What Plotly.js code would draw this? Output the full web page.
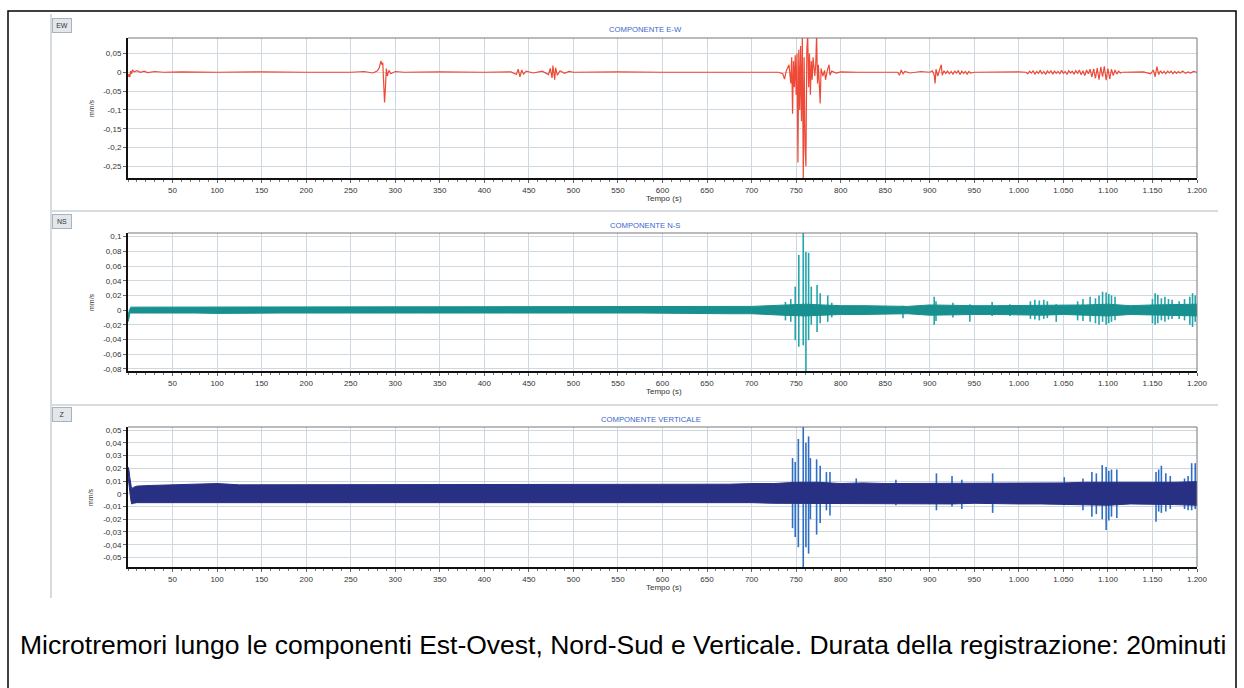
<!DOCTYPE html>
<html>
<head>
<meta charset="utf-8">
<script src="https://cdn.plot.ly/plotly-3.0.1.min.js"></script>
<style>html,body{margin:0;padding:0;background:#fff;}#chart{width:1244px;height:688px;}</style>
</head>
<body>
<div id="chart"></div>
<script>
// ---------- tick labels ----------
const xTickVals = [50,100,150,200,250,300,350,400,450,500,550,600,650,700,750,800,850,900,950,1000,1050,1100,1150,1200];
const xTickText = ['50','100','150','200','250','300','350','400','450','500','550','600','650','700','750','800','850','900','950','1.000','1.050','1.100','1.150','1.200'];
const ewTickVals = [0.05,0,-0.05,-0.1,-0.15,-0.2,-0.25];
const ewTickText = ['0,05','0','-0,05','-0,1','-0,15','-0,2','-0,25'];
const nsTickVals = [0.1,0.08,0.06,0.04,0.02,0,-0.02,-0.04,-0.06,-0.08];
const nsTickText = ['0,1','0,08','0,06','0,04','0,02','0','-0,02','-0,04','-0,06','-0,08'];
const zTickVals = [0.05,0.04,0.03,0.02,0.01,0,-0.01,-0.02,-0.03,-0.04,-0.05];
const zTickText = ['0,05','0,04','0,03','0,02','0,01','0','-0,01','-0,02','-0,03','-0,04','-0,05'];

// ---------- EW component (mm/s) ----------
const ewTime = [0,1,2,3,4,5,7,10,14,18,22,30,40,60,100,150,200,250,265,275,280,282,284,285,286,287,288,289,290,291,293,295,300,310,350,400,430,436,438,440,442,444,447,455,465,472,474,476,477,479,480,482,485,490,495,500,550,600,650,700,730,735,737,739,742,744,745,746,747,748,749,750,751,752,753,754,755,756,757,758,759,760,761,762,763,764,765,766,767,768,769,771,772,773,774,775,777,778,780,782,783,785,787,788,790,795,800,820,850,864,866,868,870,872,878,890,900,903,905,906,907,909,911,913,914,916,918,920,922,924,926,928,930,932,934,936,938,940,942,944,946,950,1000,1008,1010,1012,1014,1016,1018,1020,1022,1024,1026,1028,1030,1032,1034,1036,1038,1040,1042,1044,1046,1048,1050,1052,1054,1056,1058,1060,1062,1064,1066,1068,1070,1072,1074,1076,1078,1080,1082,1084,1086,1088,1090,1092,1094,1096,1098,1100,1102,1104,1106,1108,1110,1112,1114,1116,1140,1148,1151,1153,1155,1157,1159,1161,1163,1165,1167,1169,1171,1173,1175,1177,1179,1181,1184,1187,1190,1193,1196,1200];
const ewValue = [-0.012,-0.005,-0.013,0.003,-0.004,0.006,0.001,0.004,0,0.003,-0.001,0.002,0,0.001,0,0.001,0,0,0.002,-0.002,0.004,0.012,0.03,0.02,0.025,-0.03,-0.08,-0.04,0.01,-0.01,0.005,-0.004,0.002,0,0.001,0,0.001,-0.006,0.008,-0.012,0.006,-0.005,0.003,-0.002,0.003,-0.006,0.01,-0.015,0.018,-0.02,0.012,-0.008,0.004,-0.003,0.002,0,0.001,0,0,0.001,0,-0.004,-0.018,0.004,0.02,-0.03,0.04,-0.11,0.03,-0.04,0.045,-0.06,0.05,-0.24,0.06,-0.1,0.07,-0.13,0.1,-0.29,0.04,-0.2,-0.25,0.06,0.1,-0.04,0.05,-0.06,0.03,-0.02,0.04,-0.01,0.02,0.1,-0.03,0.02,-0.083,0.01,-0.01,0.005,-0.02,0.005,0.02,-0.008,0.003,-0.002,0.001,0,0.001,0,-0.008,0.006,-0.004,0.002,-0.002,0.002,0,0.004,-0.008,-0.03,0.008,-0.01,0.006,0.02,-0.008,0.004,-0.003,0.003,-0.004,0.002,-0.005,0.003,-0.002,0.004,-0.006,0.003,-0.003,0.002,-0.005,0.002,-0.002,0,0.001,0,-0.004,0.003,-0.002,0.004,-0.005,0.002,-0.003,0.005,-0.004,0.002,-0.006,0.003,-0.002,0.004,-0.005,0.003,-0.003,0.002,-0.004,0.005,-0.003,0.002,-0.006,0.004,-0.002,0.003,-0.005,0.004,-0.003,0.006,-0.007,0.004,-0.009,0.006,-0.004,0.008,-0.012,0.009,-0.016,0.011,-0.02,0.014,-0.012,0.016,-0.021,0.01,-0.018,0.008,-0.009,0.006,-0.005,0.003,-0.002,0,0.001,-0.004,0.006,-0.012,0.015,-0.006,0.004,-0.003,0.002,-0.004,0.003,-0.002,0.003,-0.004,0.002,-0.003,0.002,-0.002,0.003,-0.003,0.001,-0.002,0.002,0];

// ---------- NS component (mm/s): noise band + spikes ----------
const nsBandTime = [0,1,2,3,5,10,25,50,75,100,125,150,175,200,225,250,275,300,325,350,375,400,425,450,475,500,525,550,575,600,625,650,675,700,720,735,760,780,800,825,850,875,900,925,950,975,1000,1025,1050,1075,1100,1125,1150,1175,1200];
const nsBandHigh = [-0.006,-0.002,0.003,0.004,0.004,0.004,0.0045,0.004,0.0045,0.004,0.0045,0.0045,0.004,0.0045,0.004,0.0045,0.004,0.0045,0.004,0.0045,0.004,0.004,0.0045,0.004,0.004,0.0045,0.004,0.004,0.0045,0.004,0.0045,0.004,0.005,0.005,0.006,0.007,0.008,0.007,0.006,0.006,0.006,0.005,0.007,0.006,0.006,0.006,0.006,0.007,0.006,0.007,0.008,0.006,0.007,0.007,0.008];
const nsBandLow = [-0.016,-0.012,-0.004,-0.004,-0.0035,-0.004,-0.004,-0.0045,-0.004,-0.0045,-0.004,-0.0045,-0.004,-0.004,-0.0045,-0.004,-0.004,-0.0045,-0.004,-0.004,-0.0045,-0.004,-0.004,-0.0045,-0.004,-0.004,-0.0045,-0.004,-0.004,-0.0045,-0.004,-0.0045,-0.005,-0.005,-0.006,-0.007,-0.008,-0.007,-0.006,-0.006,-0.006,-0.005,-0.007,-0.006,-0.006,-0.006,-0.006,-0.007,-0.006,-0.007,-0.008,-0.006,-0.007,-0.007,-0.008];
const nsSpikeTime = [738,744,749,753,758,761,764,767,773.5,777,785.5,790,870,905,907,926,945,970,990,1013,1018,1023,1028,1032,1042,1066,1072,1080,1086,1090,1094,1098,1101,1104,1108,1150,1153,1156,1160,1164,1168,1172,1180,1186,1192,1195,1198];
const nsSpikeHigh = [0.011,0.015,0.032,0.075,0.11,0.079,0.078,0.032,0.034,0.023,0.02,0.01,0.006,0.018,0.012,0.01,0.008,0.011,0.008,0.012,0.014,0.013,0.014,0.012,0.008,0.012,0.015,0.018,0.016,0.02,0.025,0.024,0.022,0.02,0.018,0.015,0.023,0.021,0.016,0.018,0.015,0.014,0.012,0.015,0.018,0.023,0.02];
const nsSpikeLow = [-0.014,-0.016,-0.041,-0.05,-0.048,-0.09,-0.041,-0.02,-0.03,-0.018,-0.016,-0.01,-0.011,-0.02,-0.015,-0.01,-0.016,-0.008,-0.008,-0.012,-0.013,-0.014,-0.012,-0.011,-0.016,-0.014,-0.015,-0.016,-0.018,-0.02,-0.016,-0.02,-0.018,-0.016,-0.014,-0.018,-0.02,-0.018,-0.014,-0.016,-0.013,-0.012,-0.012,-0.014,-0.02,-0.023,-0.016];

// ---------- Z (vertical) component (mm/s): noise band + spikes ----------
const zBandTime = [0,1,2,3,4,6,10,25,50,75,100,125,150,175,200,225,250,275,300,325,350,375,400,425,450,475,500,525,550,575,600,625,650,675,700,725,750,775,800,825,850,875,900,925,950,975,1000,1025,1050,1075,1100,1125,1150,1175,1200];
const zBandHigh = [0.021,0.019,0.013,0.006,0.004,0.005,0.006,0.0065,0.007,0.007,0.008,0.007,0.007,0.0075,0.007,0.007,0.0075,0.007,0.007,0.0075,0.007,0.007,0.0075,0.007,0.007,0.0075,0.007,0.007,0.0075,0.007,0.0075,0.007,0.0075,0.0075,0.008,0.008,0.009,0.009,0.008,0.0085,0.008,0.008,0.0085,0.0085,0.008,0.008,0.0085,0.0085,0.0085,0.009,0.009,0.0085,0.009,0.009,0.0095];
const zBandLow = [0.014,0.01,0.002,-0.004,-0.008,-0.0075,-0.007,-0.0065,-0.0065,-0.007,-0.007,-0.0065,-0.0065,-0.007,-0.0065,-0.0065,-0.007,-0.0065,-0.0065,-0.007,-0.0065,-0.0065,-0.007,-0.0065,-0.0065,-0.007,-0.0065,-0.0065,-0.007,-0.0065,-0.007,-0.0065,-0.007,-0.007,-0.007,-0.0075,-0.008,-0.008,-0.0075,-0.0075,-0.0075,-0.0075,-0.008,-0.008,-0.0075,-0.0075,-0.008,-0.008,-0.008,-0.0085,-0.009,-0.008,-0.0085,-0.0085,-0.009];
const zSpikeTime = [746,749,752.5,758,761,764,766,773,777,784,788,817.5,862,907.5,925,936,970.6,1051,1072,1082,1087,1093.6,1098,1101,1104,1110,1154,1157,1160,1165,1170,1186,1190,1194,1198];
const zSpikeHigh = [0.028,0.025,0.043,0.06,0.04,0.045,0.028,0.027,0.022,0.017,0.017,0.012,0.011,0.016,0.014,0.011,0.016,0.013,0.012,0.017,0.016,0.0225,0.021,0.018,0.019,0.019,0.017,0.019,0.022,0.016,0.014,0.012,0.014,0.024,0.024];
const zSpikeLow = [-0.027,-0.034,-0.042,-0.06,-0.042,-0.047,-0.02,-0.032,-0.023,-0.013,-0.017,-0.008,-0.009,-0.013,-0.01,-0.012,-0.015,-0.009,-0.013,-0.018,-0.016,-0.02,-0.0285,-0.021,-0.018,-0.019,-0.022,-0.014,-0.015,-0.014,-0.012,-0.012,-0.013,-0.013,-0.012];

// ---------- helpers ----------
const W = 1244, H = 688;
const px = v => v / W;
const py = v => 1 - v / H;

function bandTrace(t, hi, lo, color, xa, ya) {
  return {
    x: t.concat(t.slice().reverse()),
    y: hi.concat(lo.slice().reverse()),
    xaxis: xa, yaxis: ya, type: 'scatter', mode: 'lines',
    fill: 'toself', fillcolor: color, line: {color: color, width: 1},
    hoverinfo: 'skip'
  };
}
function spikeTrace(t, hi, lo, color, xa, ya) {
  const xs = [], ys = [];
  t.forEach((v, i) => { xs.push(v, v, null); ys.push(lo[i], hi[i], null); });
  return {x: xs, y: ys, xaxis: xa, yaxis: ya, type: 'scatter', mode: 'lines',
          line: {color: color, width: 1.6}, hoverinfo: 'skip'};
}

const FONT = 'Liberation Sans, Arial, sans-serif';
const red = '#ef4a37', teal = '#17908f', tealLight = '#22a5ab', navy = '#283084', blueLight = '#2f6fc4';

const traces = [
  {x: ewTime, y: ewValue, xaxis: 'x', yaxis: 'y', type: 'scatter', mode: 'lines',
   line: {color: red, width: 1.2}, hoverinfo: 'skip'},
  spikeTrace(nsSpikeTime, nsSpikeHigh, nsSpikeLow, tealLight, 'x2', 'y2'),
  bandTrace(nsBandTime, nsBandHigh, nsBandLow, teal, 'x2', 'y2'),
  spikeTrace(zSpikeTime, zSpikeHigh, zSpikeLow, blueLight, 'x3', 'y3'),
  bandTrace(zBandTime, zBandHigh, zBandLow, navy, 'x3', 'y3')
];

const plotL = 128, plotR = 1197;
const panels = [
  {top: 38, bottom: 178, range: [-0.281, 0.091], tv: ewTickVals, tt: ewTickText},
  {top: 233, bottom: 371, range: [-0.083, 0.105], tv: nsTickVals, tt: nsTickText},
  {top: 427, bottom: 567, range: [-0.0575, 0.0524], tv: zTickVals, tt: zTickText}
];

const layout = {
  width: W, height: H, margin: {l: 0, r: 0, t: 0, b: 0},
  paper_bgcolor: '#ffffff', plot_bgcolor: '#ffffff', showlegend: false,
  font: {family: FONT, size: 8, color: '#333'},
  shapes: [], annotations: []
};

panels.forEach((p, i) => {
  const n = i === 0 ? '' : String(i + 1);
  layout['xaxis' + n] = {
    domain: [px(plotL), px(plotR)], anchor: 'y' + n, range: [0, 1200],
    tickmode: 'array', tickvals: xTickVals, ticktext: xTickText,
    ticks: 'outside', ticklen: 3, tickcolor: '#666', tickfont: {family: FONT, size: 8, color: '#333'},
    showgrid: true, gridcolor: '#cfd8de', gridwidth: 1, zeroline: false,
    showline: true, linecolor: '#111', linewidth: 2,
    minor: {tickmode: 'linear', tick0: 0, dtick: 10, ticks: 'outside', ticklen: 2, tickcolor: '#777', showgrid: false},
    fixedrange: true
  };
  layout['yaxis' + n] = {
    domain: [py(p.bottom), py(p.top)], anchor: 'x' + n, range: p.range,
    tickmode: 'array', tickvals: p.tv, ticktext: p.tt,
    ticks: 'outside', ticklen: 3, tickcolor: '#666', tickfont: {family: FONT, size: 8, color: '#333'},
    showgrid: true, gridcolor: '#cfd8de', gridwidth: 1, zeroline: false,
    showline: true, linecolor: '#111', linewidth: 2, fixedrange: true
  };
  layout.shapes.push({type: 'line', xref: 'paper', yref: 'paper', x0: px(plotL), x1: px(plotR), y0: py(p.top), y1: py(p.top), line: {color: '#777', width: 1}});
  layout.shapes.push({type: 'line', xref: 'paper', yref: 'paper', x0: px(plotR), x1: px(plotR), y0: py(p.top), y1: py(p.bottom), line: {color: '#777', width: 1}});
  layout.annotations.push({xref: 'paper', yref: 'paper', x: px(91), y: py((p.top + p.bottom) / 2), text: 'mm/s', textangle: -90, showarrow: false, font: {family: FONT, size: 7, color: '#333'}, xanchor: 'center', yanchor: 'middle'});
  layout.annotations.push({xref: 'paper', yref: 'paper', x: px(664), y: py(p.bottom + 20), text: 'Tempo (s)', showarrow: false, font: {family: FONT, size: 8, color: '#333'}, xanchor: 'center', yanchor: 'middle'});
});

const titles = [['COMPONENTE E-W', 645, 30], ['COMPONENTE N-S', 645, 225], ['COMPONENTE VERTICALE', 651, 419]];
titles.forEach(t => layout.annotations.push({xref: 'paper', yref: 'paper', x: px(t[1]), y: py(t[2]), text: t[0], showarrow: false, font: {family: FONT, size: 7.7, color: '#3a66cc'}, xanchor: 'center', yanchor: 'middle'}));

const buttons = [['EW', 25.5], ['NS', 221.5], ['Z', 414]];
buttons.forEach(b => layout.annotations.push({xref: 'paper', yref: 'paper', x: px(62), y: py(b[1]), text: b[0], showarrow: false, font: {family: FONT, size: 7, color: '#333'}, bgcolor: '#e3e7eb', bordercolor: '#a9b3bc', borderwidth: 1, borderpad: 3, xanchor: 'center', yanchor: 'middle', width: 12}));

layout.shapes.push({type: 'line', xref: 'paper', yref: 'paper', x0: px(51), x1: px(51), y0: py(14), y1: py(598), line: {color: '#d6dbdf', width: 2}});
layout.shapes.push({type: 'line', xref: 'paper', yref: 'paper', x0: px(51), x1: px(1218), y0: py(211), y1: py(211), line: {color: '#d6dbdf', width: 2}});
layout.shapes.push({type: 'line', xref: 'paper', yref: 'paper', x0: px(51), x1: px(1218), y0: py(405), y1: py(405), line: {color: '#d6dbdf', width: 2}});
layout.shapes.push({type: 'path', xref: 'paper', yref: 'paper', path: `M ${px(8)} ${py(688)} L ${px(8)} ${py(11)} L ${px(1236)} ${py(11)} L ${px(1236)} ${py(688)}`, line: {color: '#000', width: 1.5}});

layout.annotations.push({xref: 'paper', yref: 'paper', x: px(623), y: py(645), text: 'Microtremori lungo le componenti Est-Ovest, Nord-Sud e Verticale. Durata della registrazione: 20minuti', showarrow: false, font: {family: FONT, size: 26.5, color: '#000'}, xanchor: 'center', yanchor: 'middle'});

Plotly.newPlot('chart', traces, layout, {staticPlot: true, displayModeBar: false});
</script>
</body>
</html>
